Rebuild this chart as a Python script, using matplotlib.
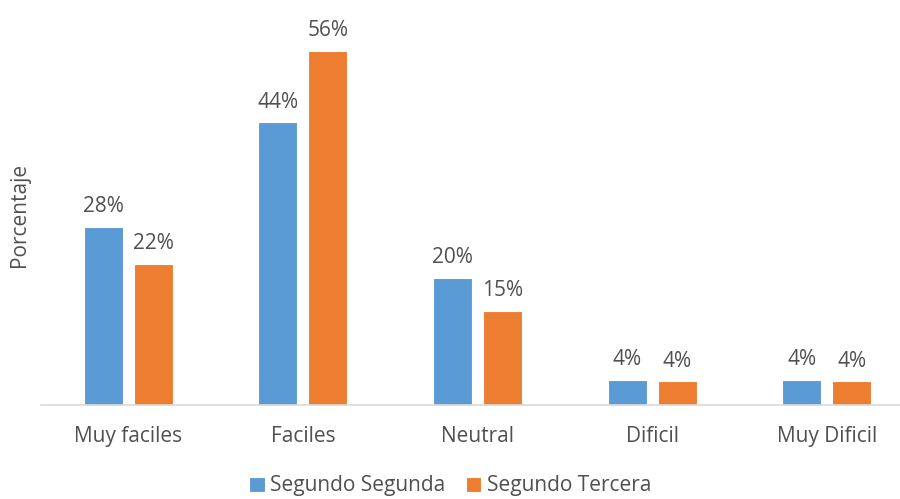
import numpy as np
import matplotlib
matplotlib.use("Agg")
import matplotlib.pyplot as plt

categories = ["Muy faciles", "Faciles", "Neutral", "Dificil", "Muy Dificil"]
segunda = [28.0, 44.4, 20.0, 4.0, 4.0]
tercera = [22.2, 55.6, 14.8, 3.7, 3.7]
series_names = ["Segundo Segunda", "Segundo Tercera"]

plt.rcParams["font.family"] = ["Open Sans", "DejaVu Sans"]
text_color = "#505050"
fs = 15

fig = plt.figure(figsize=(9, 4.99), dpi=100)
ax = fig.add_axes([41 / 900, 94 / 499, 859 / 900, 378 / 499])

x = np.arange(len(categories))
w = 0.2235
off = 0.143
b1 = ax.bar(x - off, segunda, w, color="#5B9BD5", edgecolor="white", linewidth=0.8,
            label=series_names[0])
b2 = ax.bar(x + off, tercera, w, color="#ED7D31", edgecolor="white", linewidth=0.8,
            label=series_names[1])

for bars, vals in ((b1, segunda), (b2, tercera)):
    for rect, v in zip(bars, vals):
        ax.annotate(f"{round(v):.0f}%", (rect.get_x() + rect.get_width() / 2, v),
                    xytext=(0, 7), textcoords="offset points",
                    ha="center", va="bottom", fontsize=fs, color=text_color)

ax.set_xlim(-0.5, 4.42)
ax.set_ylim(0, 59.4)
ax.set_xticks(x)
ax.set_xticklabels(categories, fontsize=fs, color=text_color)
ax.tick_params(axis="x", length=0, pad=15)
ax.set_yticks([])
for s in ("top", "right", "left"):
    ax.spines[s].set_visible(False)
ax.spines["bottom"].set_color("#d9d9d9")
ax.spines["bottom"].set_linewidth(1.2)

fig.text(20 / 900, 1 - 215 / 499, "Porcentaje", rotation=90, ha="center", va="center",
         fontsize=fs, color=text_color)

fig.legend(handles=[b1, b2], loc="center", bbox_to_anchor=(0.5, 13 / 499), ncol=2,
           frameon=False, fontsize=fs, handlelength=0.75, handleheight=0.75,
           handletextpad=0.25, columnspacing=1.0, labelcolor=text_color,
           borderpad=0.1)

fig.savefig("out.png", dpi=100)
